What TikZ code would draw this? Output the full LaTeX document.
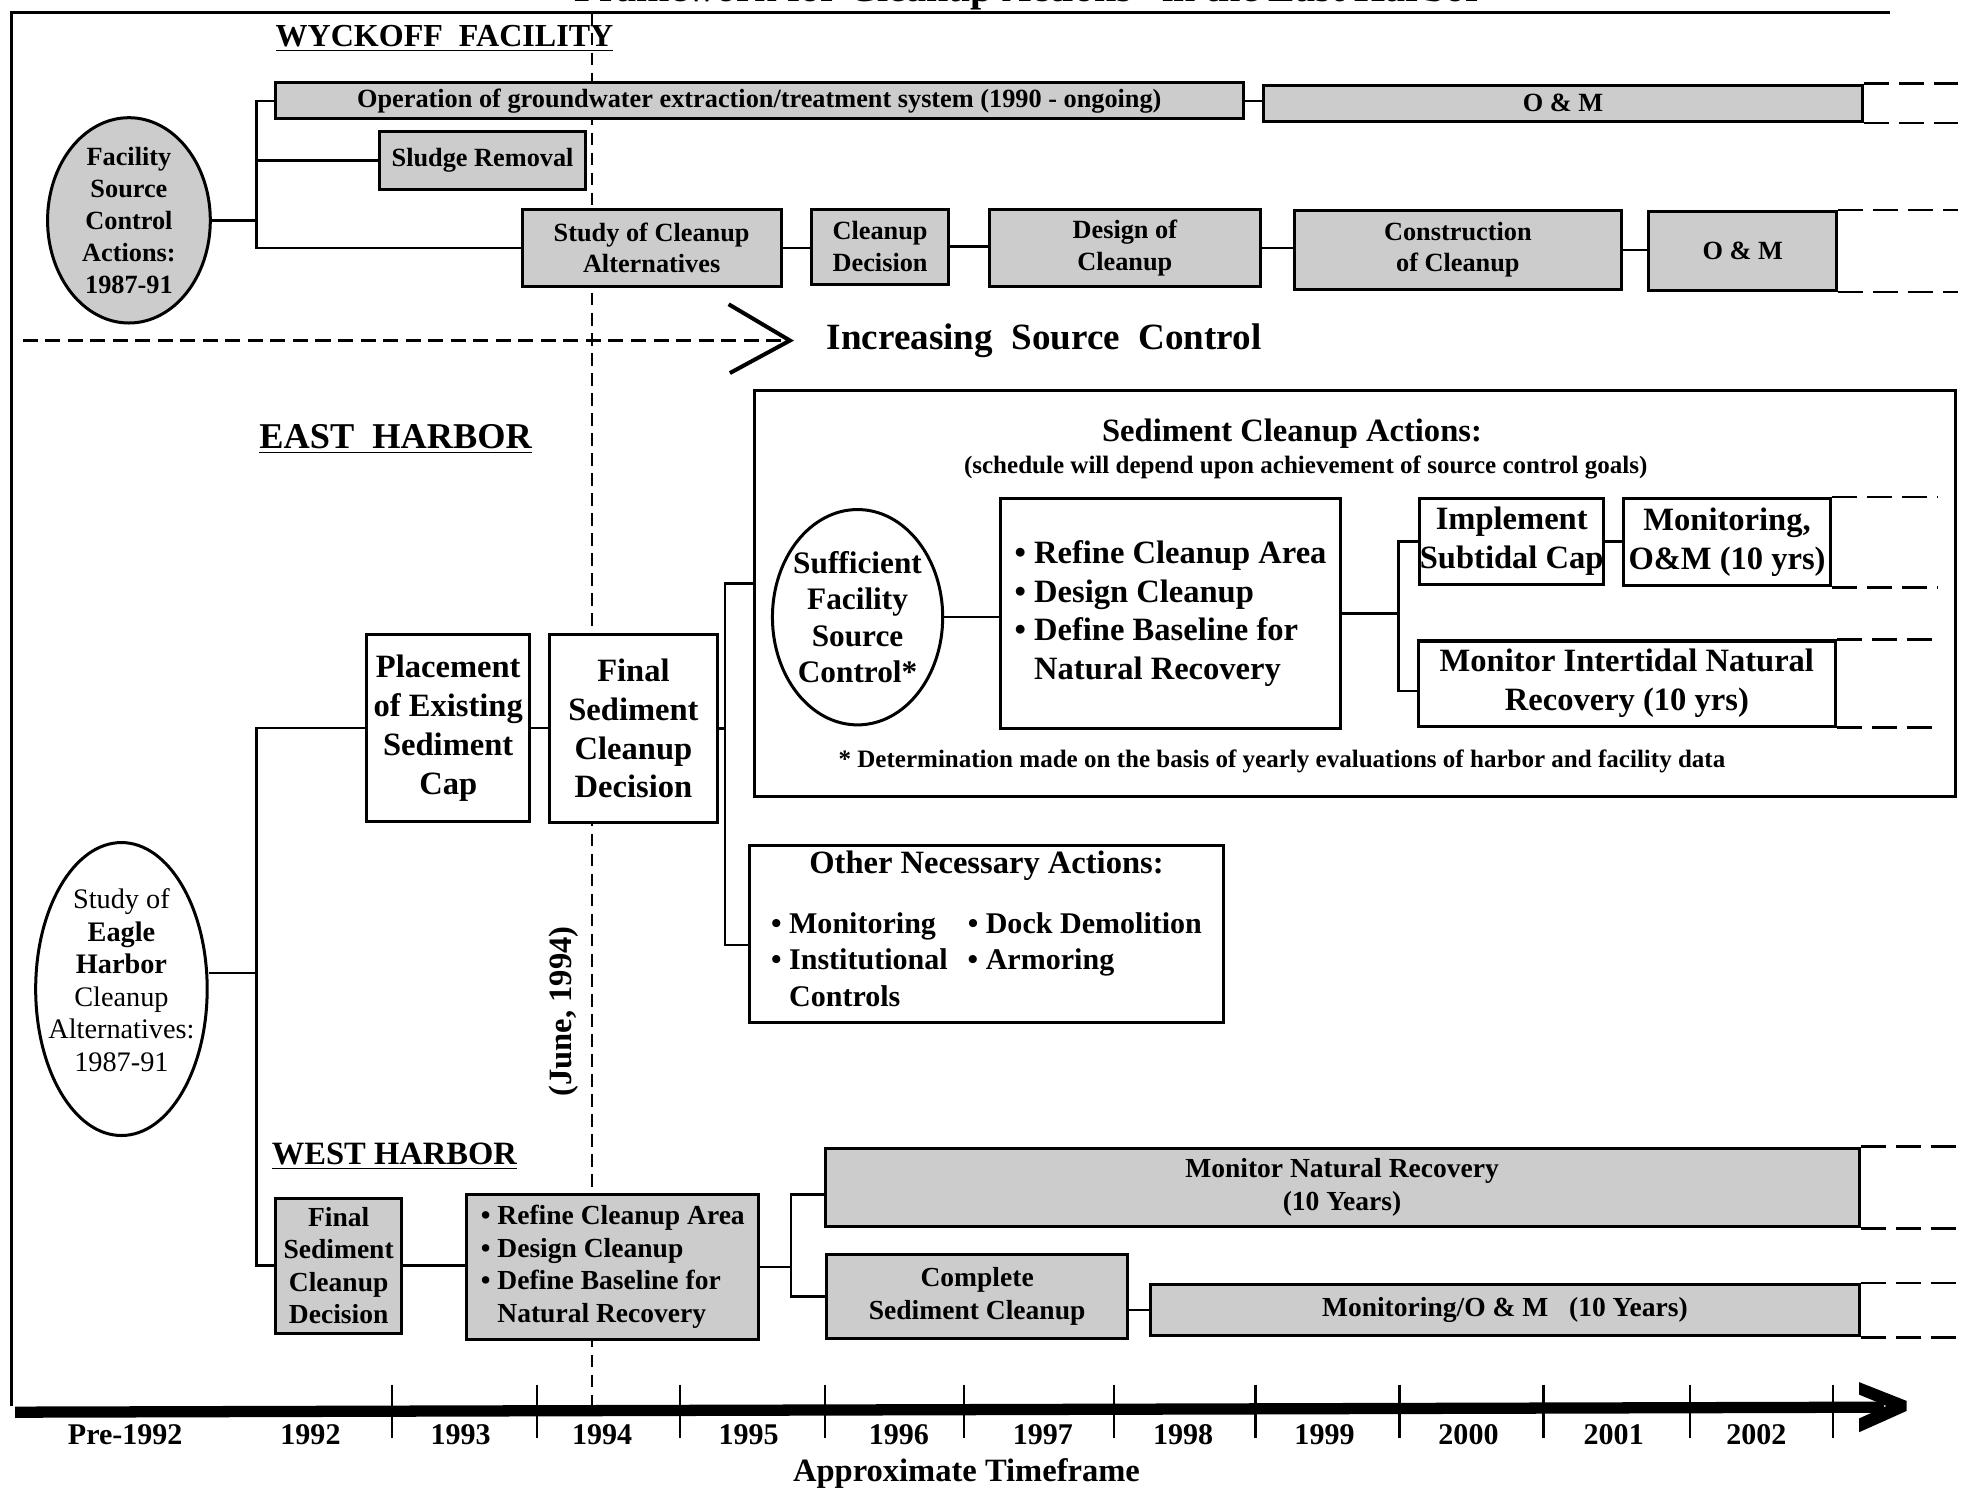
\documentclass[tikz,border=0pt]{standalone}
\usepackage{fontspec}
\setmainfont{Liberation Serif}
\usetikzlibrary{shapes.geometric}

\tikzset{
    sz/.style 2 args={minimum width=#1*0.5pt, minimum height=#2*0.5pt},
    shbox/.style={draw, line width=1.2pt, fill=black!20, inner sep=0pt, align=center,
        font=\bfseries\fontsize{10.5}{12.5}\selectfont},
    wshbox/.style={shbox, font=\bfseries\fontsize{11}{13}\selectfont},
    wbox/.style={draw, line width=1.2pt, fill=white, inner sep=0pt, align=center,
        font=\bfseries\fontsize{13}{15.5}\selectfont},
    oval/.style={ellipse, draw, line width=1.2pt, inner sep=0pt},
    link/.style={line width=1pt},
    ext/.style={line width=1pt, dash pattern=on 10pt off 4pt},
    yr/.style={font=\bfseries\fontsize{12}{14}\selectfont}
}

\begin{document}
\begin{tikzpicture}[x=0.5pt, y=-0.5pt]
    \useasboundingbox (0,0) rectangle (1568,1191);
    \clip (0,0) rectangle (1568,1191);

    % title and frame
    \node[font=\bfseries\fontsize{16}{18}\selectfont, anchor=base] (ttl) at (822,1) {Framework for Cleanup Actions'' in the East Harbor};
    \draw[line width=1pt] (9,1123) -- (9,10) -- (1510,10);

    % decision date
    \draw[line width=1pt, dash pattern=on 5pt off 3pt] (473,10) -- (473,1123);
    \node[font=\bfseries\fontsize{13}{15}\selectfont, rotate=90] (jun) at (450,808) {(June, 1994)};

    % Wyckoff facility
    \node[font=\bfseries\fontsize{12.8}{15}\selectfont] (wyk) at (355,31) {\underline{WYCKOFF\ \ FACILITY}};
    \node[oval, fill=black!20, sz={130}{164},
        label={[align=center, font=\bfseries\fontsize{10.5}{12.75}\selectfont]center:{Facility\\Source\\Control\\Actions:\\1987-91}}] (fsc) at (103,176) {};
    \node[shbox, sz={773}{29}] (gwx) at (606.5,80.5) {Operation of groundwater extraction/treatment system (1990 - ongoing)};
    \node[shbox, sz={479}{29}] (om1) at (1248.5,82.5) {O \& M};
    \node[shbox, sz={165}{46}] (slu) at (385.5,128) {Sludge Removal};
    \node[shbox, sz={207}{62}] (std) at (520.5,198) {Study of Cleanup\\Alternatives};
    \node[shbox, sz={110}{60}] (cdc) at (703,197) {Cleanup\\Decision};
    \node[shbox, sz={217}{62}] (dsg) at (898.5,198) {Design of\\Cleanup};
    \node[shbox, sz={261}{63}] (cnst) at (1164.5,199.5) {Construction\\of Cleanup};
    \node[shbox, sz={150}{63}] (om2) at (1392,200.5) {O \& M};

    \coordinate (wsp) at (205,176);
    \draw[link] (fsc.east) -- (wsp);
    \draw[link] (gwx.west) -| (wsp) |- (std.west);
    \draw[link] (wsp |- slu.west) -- (slu.west);
    \draw[link] (gwx.east) -- (gwx.east -| om1.west);
    \draw[link] (std.east) -- (std.east -| cdc.west);
    \draw[link] (cdc.east) -- (cdc.east -| dsg.west);
    \draw[link] (dsg.east) -- (dsg.east -| cnst.west);
    \draw[link] (cnst.east) -- (cnst.east -| om2.west);
    \draw[ext] (om1.north east) -- ++(75,0);
    \draw[ext] (om1.south east) -- ++(75,0);
    \draw[ext] (om2.north east) -- ++(96,0);
    \draw[ext] (om2.south east) -- ++(96,0);

    % source control trend
    \draw[line width=1pt, dash pattern=on 6pt off 3pt] (18,272) -- (626,272);
    \draw[line width=1.6pt] (582,243) -- (631,272) -- (583,298);
    \node[font=\bfseries\fontsize{14.8}{17}\selectfont] (incr) at (834,272) {Increasing\ \ Source\ \ Control};

    % East Harbor
    \node[font=\bfseries\fontsize{14.5}{17}\selectfont] (east) at (316,351) {\underline{EAST\ \ HARBOR}};
    \node[oval, sz={137}{234},
        label={[align=center, yshift=3.5pt, font=\fontsize{11.3}{13}\selectfont]center:{Study of\\\textbf{Eagle}\\\textbf{Harbor}\\Cleanup\\Alternatives:\\1987-91}}] (sea) at (97,790) {};
    \node[wbox, sz={130}{149}] (plc) at (358,581.5) {Placement\\of Existing\\Sediment\\Cap};
    \node[wbox, sz={134}{150}] (fin) at (506,582) {Final\\Sediment\\Cleanup\\Decision};

    \node[wbox, sz={959}{324}] (sca) at (1082.5,474) {};
    \node[font=\bfseries\fontsize{13}{15}\selectfont] (scat) at (1032,346) {Sediment Cleanup Actions:};
    \node[font=\bfseries\fontsize{10}{12}\selectfont] (scas) at (1043,373) {(schedule will depend upon achievement of source control goals)};
    \node[oval, sz={136}{172},
        label={[align=center, font=\bfseries\fontsize{12.5}{14.5}\selectfont]center:{Sufficient\\Facility\\Source\\Control*}}] (suf) at (685,493) {};
    \node[wbox, align=left, sz={272}{184}] (ebul) at (935,490) {• Refine Cleanup Area\\• Design Cleanup\\• Define Baseline for\\\phantom{• }Natural Recovery};
    \node[wbox, sz={147}{69}] (isc) at (1207.5,432.5) {Implement\\Subtidal Cap};
    \node[wbox, sz={165}{70}] (mom) at (1379.5,433) {Monitoring,\\O\&M (10 yrs)};
    \node[wbox, sz={333}{68}] (mit) at (1299.5,546) {Monitor Intertidal Natural\\Recovery (10 yrs)};
    \node[font=\bfseries\fontsize{10}{12}\selectfont] (fnote) at (1024,608) {* Determination made on the basis of yearly evaluations of harbor and facility data};

    \node[wbox, sz={378}{142}] (oth) at (788,746) {Other Necessary Actions:\\[10pt]
        {\fontsize{12}{14.5}\selectfont
        \begin{tabular}{@{}l@{\hspace{8pt}}l@{}}
            • Monitoring & • Dock Demolition\\
            • Institutional & • Armoring\\
            \phantom{• }Controls &
        \end{tabular}}};

    \coordinate (esp) at (205,777);
    \draw[link] (sea.east) ++(0,-13) -- (esp);
    \draw[link] (plc.west) -| (esp);
    \draw[link] (plc.east) -- (plc.east -| fin.west);
    \coordinate (fsp) at (579,582);
    \draw[link] (fin.east) -- (fsp);
    \draw[link] (sca.west |- 0,466) -| (fsp) |- (oth.west |- 0,755);
    \draw[link] (suf.east) -- (suf.east -| ebul.west);
    \coordinate (gsp) at (1117,490);
    \draw[link] (ebul.east) -- (gsp);
    \draw[link] (isc.west) -| (gsp) |- (mit.west |- 0,552);
    \draw[link] (isc.east) -- (isc.east -| mom.west);
    \draw[ext] (mom.north east) -- ++(85,0);
    \draw[ext] (mom.south east) -- ++(85,0);
    \draw[ext] (mit.north east) -- ++(81,0);
    \draw[ext] (mit.south east) -- ++(81,0);

    % West Harbor
    \node[font=\bfseries\fontsize{13}{15}\selectfont] (west) at (315,924) {\underline{WEST HARBOR}};
    \node[wshbox, sz={101}{108}] (wfin) at (270.5,1011) {Final\\Sediment\\Cleanup\\Decision};
    \node[wshbox, align=left, sz={233}{116}] (wbul) at (489.5,1012) {• Refine Cleanup Area\\• Design Cleanup\\• Define Baseline for\\\phantom{• }Natural Recovery};
    \node[wshbox, sz={826}{63}] (mnr) at (1072,948.5) {Monitor Natural Recovery\\(10 Years)};
    \node[wshbox, sz={241}{67}] (csc) at (780.5,1035.5) {Complete\\Sediment Cleanup};
    \node[wshbox, sz={566}{41}] (mwo) at (1202,1046.5) {Monitoring/O \& M\ \ \ (10 Years)};

    \draw[link] (esp) |- (wfin.west);
    \draw[link] (wfin.east) -- (wfin.east -| wbul.west);
    \coordinate (hsp) at (632,1012);
    \draw[link] (wbul.east) -- (hsp);
    \draw[link] (mnr.west |- 0,954) -| (hsp) |- (csc.west);
    \draw[link] (csc.east |- mwo.west) -- (mwo.west);
    \draw[ext] (mnr.north east) -- ++(78,0);
    \draw[ext] (mnr.south east) -- ++(78,0);
    \draw[ext] (mwo.north east) -- ++(78,0);
    \draw[ext] (mwo.south east) -- ++(78,0);

    % timeline
    \draw[line width=4.5pt] (12,1128) -- (1505,1124);
    \fill (1485,1104) -- (1523,1119) -- (1523,1127) -- (1485,1144) -- (1485,1133) -- (1507,1123) -- (1485,1114) -- cycle;
    \foreach \tx in {313,429,543,659,770,890,1003,1118,1233,1350,1464} {
        \draw[line width=1pt] (\tx,1106) -- (\tx,1149);
    }
    \foreach \yl/\xx in {Pre-1992/100, 1992/248, 1993/368, 1994/481, 1995/598, 1996/718, 1997/833, 1998/945, 1999/1058, 2000/1173, 2001/1289, 2002/1403} {
        \node[yr] (y\xx) at (\xx,1146) {\yl};
    }
    \node[font=\bfseries\fontsize{13}{15}\selectfont] (tfr) at (772,1177) {Approximate Timeframe};
\end{tikzpicture}
\end{document}
